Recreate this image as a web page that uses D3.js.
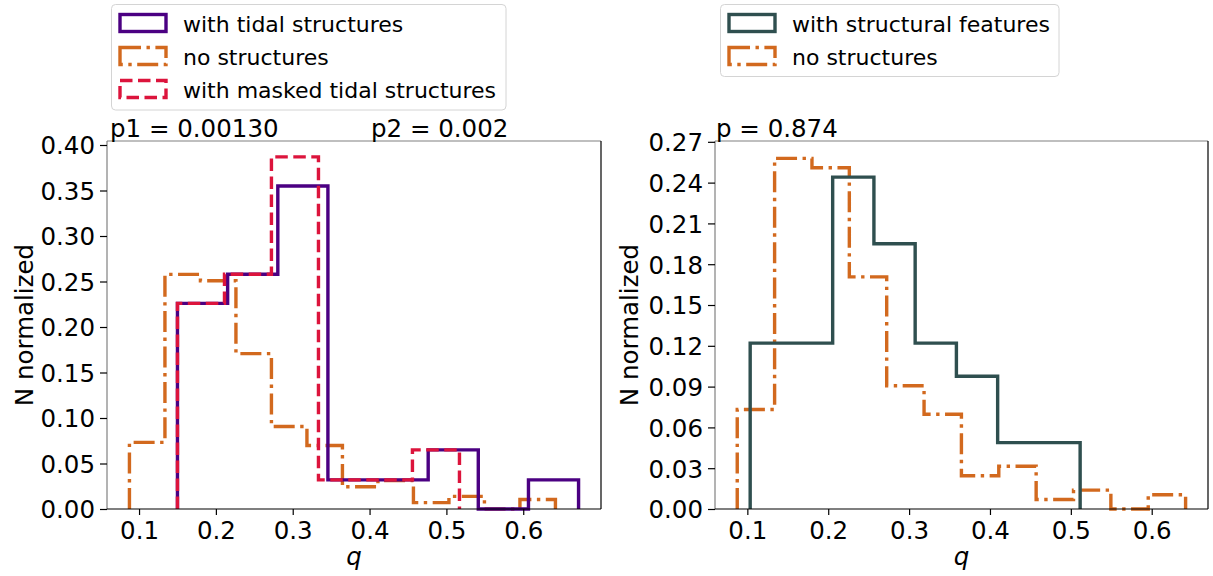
<!DOCTYPE html>
<html>
<head>
<meta charset="utf-8">
<script src="https://cdn.jsdelivr.net/npm/d3@7"></script>
<style>
  html, body { margin: 0; padding: 0; background: #fff; }
  svg { display: block; font-family: "DejaVu Sans", sans-serif; }
</style>
</head>
<body>
<svg id="chart" width="1213" height="576"></svg>
<script>
// Bin edges and normalized heights for each histogram (q distribution)
const tidalEdges   = [0.150, 0.2153, 0.2806, 0.3458, 0.4110, 0.4763, 0.5415, 0.6068, 0.6720];
const tidalValues  = [0.226, 0.258, 0.355, 0.032, 0.032, 0.065, 0.000, 0.032];

const maskedEdges  = [0.150, 0.2112, 0.2723, 0.3335, 0.3947, 0.4558, 0.5170];
const maskedValues = [0.226, 0.258, 0.387, 0.032, 0.032, 0.065];

const noStructEdges  = [0.0875, 0.1337, 0.1799, 0.2261, 0.2723, 0.3185, 0.3647, 0.4109, 0.4571, 0.5033, 0.5495, 0.5957, 0.6419];
const noStructValues = [0.0732, 0.2578, 0.2509, 0.1707, 0.0906, 0.0697, 0.0244, 0.0314, 0.0070, 0.0139, 0.0000, 0.0105];

const featEdges  = [0.1035, 0.1545, 0.2055, 0.2565, 0.3075, 0.3585, 0.4095, 0.4605, 0.5115];
const featValues = [0.122, 0.122, 0.244, 0.195, 0.122, 0.0976, 0.0488, 0.0488];

// Tick values
const xTicks      = [0.1, 0.2, 0.3, 0.4, 0.5, 0.6];
const yTicksLeft  = [0.00, 0.05, 0.10, 0.15, 0.20, 0.25, 0.30, 0.35, 0.40];
const yTicksRight = [0.00, 0.03, 0.06, 0.09, 0.12, 0.15, 0.18, 0.21, 0.24, 0.27];

// Legend labels and annotations
const leftLegend  = ["with tidal structures", "no structures", "with masked tidal structures"];
const rightLegend = ["with structural features", "no structures"];
const leftNotes   = ["p1 = 0.00130", "p2 = 0.002"];
const rightNotes  = ["p = 0.874"];

const COLORS = { tidal: "#4B0082", none: "#D2691E", masked: "#DC143C", feat: "#2F4F4F" };
const DASH = { solid: null, dashdot: "21,5.5,3.4,5.5", dashed: "12.5,5.5" };
const LW = 3.4;

const svg = d3.select("#chart");

function stepPath(x, y, edges, values) {
  const pts = [[edges[0], 0]];
  values.forEach((v, i) => { pts.push([edges[i], v]); pts.push([edges[i + 1], v]); });
  pts.push([edges[edges.length - 1], 0]);
  return d3.line().x(d => x(d[0])).y(d => y(d[1]))(pts);
}

function panel(opts) {
  const { x0, x1, y0, y1, xDomain, yDomain, yTicks, series } = opts;
  const x = d3.scaleLinear().domain(xDomain).range([x0, x1]);
  const y = d3.scaleLinear().domain(yDomain).range([y1, y0]);
  const g = svg.append("g");

  // histograms
  series.forEach(s => {
    g.append("path")
      .attr("d", stepPath(x, y, s.edges, s.values))
      .attr("fill", "none")
      .attr("stroke", s.color)
      .attr("stroke-width", LW)
      .attr("stroke-dasharray", s.dash)
      .attr("stroke-linejoin", "miter");
  });

  // spines
  g.append("line").attr("x1", x0).attr("x2", x1).attr("y1", y0).attr("y2", y0).attr("stroke", "#808080").attr("stroke-width", 1.2);
  g.append("line").attr("x1", x0).attr("x2", x0).attr("y1", y0).attr("y2", y1).attr("stroke", "#808080").attr("stroke-width", 1.2);
  g.append("line").attr("x1", x1).attr("x2", x1).attr("y1", y0).attr("y2", y1).attr("stroke", "#000").attr("stroke-width", 1.2);
  g.append("line").attr("x1", x0).attr("x2", x1).attr("y1", y1).attr("y2", y1).attr("stroke", "#000").attr("stroke-width", 1.2);

  // axes
  const xAxis = d3.axisBottom(x).tickValues(xTicks).tickFormat(d3.format(".1f")).tickSizeInner(6).tickSizeOuter(0).tickPadding(5);
  const gx = g.append("g").attr("transform", `translate(0,${y1})`).call(xAxis);
  const yAxis = d3.axisLeft(y).tickValues(yTicks).tickFormat(d3.format(".2f")).tickSizeInner(7).tickSizeOuter(0).tickPadding(5);
  const gy = g.append("g").attr("transform", `translate(${x0},0)`).call(yAxis);
  [gx, gy].forEach(a => {
    a.select(".domain").remove();
    a.selectAll(".tick line").attr("stroke", "#000").attr("stroke-width", 1.2);
    a.selectAll(".tick text").attr("fill", "#000").style("font-size", "24.5px").style("font-family", "DejaVu Sans");
  });
  gx.selectAll(".tick text").attr("dy", "0.76em");
  gy.selectAll(".tick text").attr("dy", "0.36em");

  // axis labels
  g.append("text").attr("x", (x0 + x1) / 2).attr("y", 565).attr("text-anchor", "middle")
    .style("font-size", "24.5px").style("font-style", "italic").text("q");
  g.append("text").attr("transform", `translate(${opts.yLabelX},${(y0 + y1) / 2}) rotate(-90)`)
    .attr("text-anchor", "middle").style("font-size", "24.5px").text("N normalized");

  // annotations above the axes
  opts.notes.forEach((t, i) => {
    g.append("text").attr("x", opts.noteX[i]).attr("y", 137).style("font-size", "24.5px").text(t);
  });

  // legend
  const L = opts.legend;
  svg.append("rect").attr("x", L.x).attr("y", 4.5).attr("width", L.w).attr("height", L.h)
    .attr("rx", 4).attr("fill", "#fff").attr("stroke", "#d4d4d4").attr("stroke-width", 1);
  L.items.forEach((it, i) => {
    const cy = 23 + i * 33;
    svg.append("rect").attr("x", L.x + 8.5).attr("y", cy - 8.5).attr("width", 46).attr("height", 17)
      .attr("fill", "none").attr("stroke", it.color).attr("stroke-width", LW).attr("stroke-dasharray", it.dash);
    svg.append("text").attr("x", L.x + 71.5).attr("y", cy + 9).style("font-size", "22px").text(it.label);
  });
}

panel({
  x0: 107, x1: 601, y0: 141, y1: 509,
  xDomain: [0.0583, 0.7012], yDomain: [0, 0.4044], yTicks: yTicksLeft,
  yLabelX: 33, notes: leftNotes, noteX: [110, 371],
  series: [
    { edges: noStructEdges, values: noStructValues, color: COLORS.none, dash: DASH.dashdot },
    { edges: tidalEdges, values: tidalValues, color: COLORS.tidal, dash: DASH.solid },
    { edges: maskedEdges, values: maskedValues, color: COLORS.masked, dash: DASH.dashed }
  ],
  legend: { x: 111.5, w: 394.5, h: 105.5, items: [
    { label: leftLegend[0], color: COLORS.tidal, dash: DASH.solid },
    { label: leftLegend[1], color: COLORS.none, dash: DASH.dashdot },
    { label: leftLegend[2], color: COLORS.masked, dash: DASH.dashed }
  ] }
});

panel({
  x0: 715, x1: 1208, y0: 141, y1: 509,
  xDomain: [0.06, 0.6696], yDomain: [0, 0.2706], yTicks: yTicksRight,
  yLabelX: 638, notes: rightNotes, noteX: [716],
  series: [
    { edges: noStructEdges, values: noStructValues, color: COLORS.none, dash: DASH.dashdot },
    { edges: featEdges, values: featValues, color: COLORS.feat, dash: DASH.solid }
  ],
  legend: { x: 720.5, w: 338.5, h: 72, items: [
    { label: rightLegend[0], color: COLORS.feat, dash: DASH.solid },
    { label: rightLegend[1], color: COLORS.none, dash: DASH.dashdot }
  ] }
});
</script>
</body>
</html>
